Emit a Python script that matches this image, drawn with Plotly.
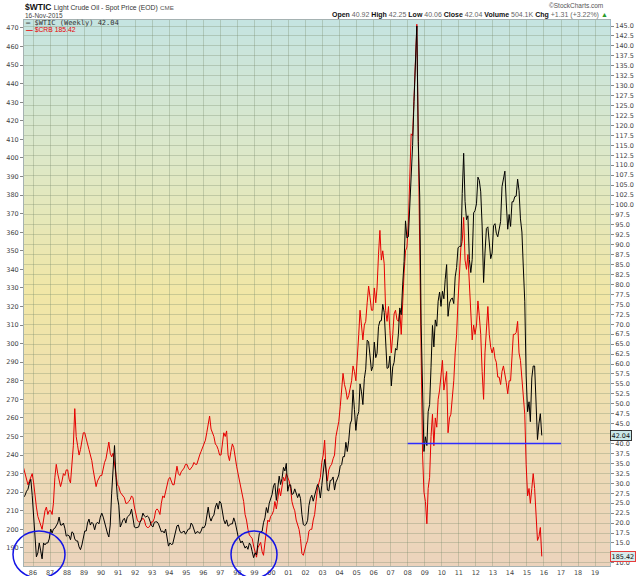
import pandas as pd
import plotly.graph_objects as go

START_MONTH = "1985-06-01"

wtic = [
    26.5, 27.0, 28.0, 28.5, 30.0, 31.0, 27.0,                          # 1985 Jun-Dec
    22.0, 14.5, 11.5, 12.5, 15.0, 13.0, 11.0, 15.0, 14.5, 15.0, 15.0, 16.0,  # 1986
    18.5, 17.5, 18.5, 18.7, 19.4, 20.0, 21.5, 19.5, 19.5, 20.0, 18.7, 16.7,  # 1987
    17.0, 16.8, 15.8, 17.8, 17.5, 16.0, 15.5, 15.5, 14.0, 13.3, 14.5, 16.5,  # 1988
    18.0, 18.0, 20.0, 21.0, 19.5, 20.2, 19.8, 18.3, 19.8, 20.2, 19.8, 21.5,  # 1989
    22.5, 21.5, 20.0, 18.5, 17.5, 16.5, 19.5, 27.5, 33.5, 39.5, 31.5, 26.5,  # 1990
    24.5, 19.0, 19.8, 20.8, 21.2, 20.0, 21.5, 21.8, 22.2, 23.5, 21.5, 19.0,  # 1991
    18.8, 19.0, 19.0, 20.2, 21.0, 22.5, 21.8, 21.5, 21.8, 21.5, 20.3, 19.4,  # 1992
    19.0, 20.2, 20.3, 20.3, 19.8, 19.0, 17.8, 18.0, 17.5, 18.5, 16.5, 14.2,  # 1993
    15.0, 14.6, 14.7, 16.5, 18.0, 19.3, 19.5, 18.0, 17.5, 17.8, 18.0, 17.2,  # 1994
    18.0, 18.5, 18.5, 20.0, 19.5, 18.3, 17.3, 17.8, 17.8, 17.4, 18.0, 19.0,  # 1995
    18.8, 19.5, 21.5, 24.0, 21.5, 20.5, 21.5, 22.0, 24.0, 25.0, 23.5, 25.5,  # 1996
    25.0, 22.0, 20.8, 19.8, 20.8, 19.2, 19.6, 19.8, 19.8, 21.3, 20.2, 18.3,  # 1997
    16.7, 16.0, 15.0, 15.5, 14.8, 13.7, 14.2, 13.4, 15.0, 14.4, 12.8, 11.3,  # 1998
    12.5, 12.0, 14.7, 17.3, 17.8, 17.9, 20.1, 21.3, 23.9, 22.6, 25.0, 26.1,  # 1999
    27.2, 29.4, 30.0, 25.7, 28.8, 31.8, 29.7, 31.2, 34.0, 33.1, 35.0, 28.0,  # 2000
    29.6, 29.6, 27.2, 27.4, 28.6, 27.6, 26.4, 27.4, 26.2, 22.2, 19.6, 19.4,  # 2001
    19.7, 20.7, 24.4, 26.2, 27.0, 25.5, 26.9, 28.4, 29.7, 28.9, 26.3, 29.4,  # 2002
    32.9, 36.0, 33.6, 28.3, 28.1, 30.7, 30.8, 31.6, 28.3, 30.3, 31.1, 32.1,  # 2003
    34.3, 34.7, 36.7, 36.7, 40.3, 38.0, 40.7, 44.9, 45.9, 53.5, 48.5, 43.3,  # 2004
    46.8, 48.0, 55.0, 53.0, 49.8, 56.3, 58.7, 66.0, 65.6, 62.4, 58.3, 59.4,  # 2005
    65.5, 61.6, 62.7, 69.4, 70.8, 70.9, 75.0, 73.0, 63.8, 58.9, 59.1, 62.0,  # 2006
    54.5, 59.3, 60.4, 63.9, 63.5, 67.5, 74.1, 72.4, 79.9, 85.8, 96.0, 91.7,  # 2007
    92.0, 100.0, 105.5, 115.0, 126.0, 138.0, 145.0, 116.0, 102.0, 70.0, 54.0, 38.0,  # 2008
    41.7, 39.5, 48.0, 49.8, 59.2, 69.7, 64.3, 71.1, 69.5, 75.8, 78.1, 74.5,  # 2009
    78.3, 76.4, 81.2, 85.0, 72.0, 75.3, 76.3, 76.6, 75.2, 81.9, 84.3, 89.2,  # 2010
    89.6, 89.6, 102.9, 113.0, 100.9, 96.3, 97.3, 86.3, 83.0, 86.3, 98.0, 98.6,  # 2011
    100.3, 107.0, 106.2, 103.3, 94.7, 80.5, 87.9, 94.1, 94.5, 89.5, 86.5, 87.9,  # 2012
    94.8, 95.3, 92.9, 92.0, 94.5, 95.8, 104.6, 107.0, 108.5, 100.5, 93.9, 97.6,  # 2013
    94.6, 100.8, 100.8, 102.1, 102.2, 106.5, 103.6, 96.5, 93.2, 84.4, 75.8, 57.0,  # 2014
    48.0, 50.5, 45.5, 56.5, 59.5, 59.5, 48.5, 41.0, 45.0, 47.5, 42.04,       # 2015 Jan-Nov
]

# $CRB index, same months
crb = [
    233, 230, 226, 224, 226, 228, 230,                     # 1985 Jun-Dec
    225, 216, 212, 207, 205, 203, 200, 205, 210, 212, 208, 210,  # 1986
    210, 208, 214, 228, 235, 230, 226, 223, 226, 230, 229, 232,  # 1987
    232, 227, 225, 237, 245, 265, 250, 245, 240, 243, 247, 252,  # 1988
    252, 248, 246, 243, 240, 237, 232, 226, 223, 226, 228, 229,  # 1989
    229, 233, 236, 238, 244, 247, 241, 239, 241, 236, 230, 224,  # 1990
    223, 220, 219, 218, 217, 214, 214, 215, 216, 218, 217, 212,  # 1991
    209, 205, 204, 204, 205, 206, 205, 202, 201, 201, 202, 204,  # 1992
    204, 206, 210, 211, 210, 208, 214, 218, 217, 220, 223, 227,  # 1993
    228, 226, 224, 224, 230, 234, 230, 229, 231, 232, 233, 235,  # 1994
    235, 233, 232, 233, 234, 236, 235, 235, 238, 240, 242, 244,  # 1995
    246, 248, 252, 258, 261, 254, 252, 250, 246, 245, 243, 240,  # 1996
    240, 246, 252, 250, 253, 240, 237, 242, 246, 244, 238, 234,  # 1997
    230, 226, 224, 220, 215, 208, 205, 200, 197, 196, 195, 191,  # 1998
    187, 185, 190, 192, 193, 188, 186, 193, 200, 205, 204, 207,  # 1999
    208, 210, 215, 211, 216, 222, 218, 222, 228, 226, 230, 228,  # 2000
    226, 222, 215, 212, 210, 205, 202, 200, 195, 187, 186, 190,  # 2001
    192, 194, 199, 200, 200, 205, 208, 215, 222, 225, 228, 236,  # 2002
    240, 248, 232, 226, 232, 234, 235, 238, 240, 250, 255, 258,  # 2003
    266, 275, 284, 278, 275, 270, 272, 276, 280, 288, 285, 280,  # 2004
    290, 305, 318, 307, 302, 310, 312, 322, 331, 325, 318, 318,  # 2005
    330, 322, 330, 348, 361, 345, 350, 343, 318, 312, 320, 307,  # 2006
    295, 305, 316, 318, 313, 312, 318, 305, 327, 338, 350, 352,  # 2007
    365, 395, 413, 412, 430, 455, 472, 410, 362, 295, 240, 220,  # 2008
    215, 203, 222, 228, 250, 262, 245, 260, 255, 270, 275, 282,  # 2009
    291, 275, 280, 285, 252, 260, 262, 272, 280, 295, 305, 323,  # 2010
    335, 352, 355, 368, 345, 340, 348, 334, 320, 302, 310, 305,  # 2011
    310, 323, 315, 305, 285, 270, 295, 305, 320, 305, 298, 295,  # 2012
    298, 292, 290, 282, 282, 278, 285, 288, 284, 279, 273, 280,  # 2013
    280, 296, 305, 305, 306, 312, 295, 291, 280, 268, 262, 235,  # 2014
    218, 222, 214, 222, 230, 222, 210, 194, 196, 201, 185.42,    # 2015 Jan-Nov
]

LEFT_TICKS = list(range(190, 471, 10))
RIGHT_TICKS = [10 + 2.5 * i for i in range(55)]          # 10.0 .. 145.0
HIDDEN_RIGHT = {12.5, 42.5}                              # covered by the last-value tags
SUPPORT_LEVEL = 40.0
SUPPORT_FROM, SUPPORT_TO = "2008-01-01", "2017-01-01"

dates = pd.date_range(START_MONTH, periods=len(wtic), freq="MS") + pd.Timedelta(days=14)

W, H = 640, 576
ML, MR, MT, MB = 24, 30, 20, 10
PW, PH = W - ML - MR, H - MT - MB      # plot box: x 24..610, y 20..566


def px(x):   # pixel -> paper
    return (x - ML) / PW


def py(y):
    return (H - MB - y) / PH


def mix(a, b, t):
    return tuple(round(a[i] + (b[i] - a[i]) * t) for i in range(3))


STOPS = [(0.0, (197, 228, 225)), (0.25, (221, 232, 200)), (0.5, (241, 231, 166)),
         (0.75, (238, 221, 180)), (1.0, (236, 211, 188))]


def bg_color(t):
    for (t0, c0), (t1, c1) in zip(STOPS, STOPS[1:]):
        if t <= t1:
            return "rgb(%d,%d,%d)" % mix(c0, c1, (t - t0) / (t1 - t0))
    return "rgb(%d,%d,%d)" % STOPS[-1][1]


shapes = []
N = 110
for i in range(N):
    shapes.append(dict(type="rect", xref="paper", yref="paper", x0=0, x1=1,
                       y0=max(0, 1 - (i + 1.3) / N), y1=1 - i / N, layer="below",
                       fillcolor=bg_color((i + 0.5) / N), line_width=0))

# support line and the two circled lows
shapes.append(dict(type="line", xref="x", yref="y2", x0=SUPPORT_FROM, x1=SUPPORT_TO,
                   y0=SUPPORT_LEVEL, y1=SUPPORT_LEVEL, line=dict(color="rgb(45,45,255)", width=1.6)))
for x0, x1 in [(13, 65), (231, 277)]:
    shapes.append(dict(type="circle", xref="paper", yref="paper",
                       x0=px(x0), x1=px(x1), y0=py(578), y1=py(531),
                       line=dict(color="rgb(20,20,230)", width=1.5)))

fig = go.Figure()

fig.add_trace(go.Scatter(
    x=dates, y=crb, yaxis="y", mode="lines",
    line=dict(color="rgb(230,0,0)", width=1),
    name="$CRB", showlegend=False
))
fig.add_trace(go.Scatter(
    x=dates, y=wtic, yaxis="y2", mode="lines",
    line=dict(color="black", width=1),
    name="$WTIC", showlegend=False
))

SANS = "Liberation Sans"
TICK = dict(family="DejaVu Sans", size=6.5, color="#444")
GRAY = "<span style='color:#666'>%s</span>"

ann = [
    dict(text="<b>$WTIC</b> <span style='font-size:6.8px;color:#333'>Light Crude Oil - Spot Price (EOD)"
              "</span> <span style='font-size:6.2px;color:#555'>CME</span>",
         x=px(23), y=py(6.5), font=dict(family=SANS, size=8.5, color="#111")),
    dict(text="16-Nov-2015", x=px(23), y=py(15.5), font=dict(family=SANS, size=6.5, color="#444")),
    dict(text="©StockCharts.com", x=px(605), y=py(5.5), xanchor="right",
         font=dict(family=SANS, size=6.5, color="#555")),
    dict(text="<b>Open</b> " + GRAY % "40.92" + " <b>High</b> " + GRAY % "42.25" +
              " <b>Low</b> " + GRAY % "40.06" + " <b>Close</b> " + GRAY % "42.04" +
              " <b>Volume</b> " + GRAY % "504.1K" + " <b>Chg</b> " + GRAY % "+1.31 (+3.22%)" +
              " <span style='color:#2a9a2a'>▲</span>",
         x=px(610), y=py(14.5), xanchor="right", font=dict(family=SANS, size=7, color="#111")),
    dict(text="<b>—</b> $WTIC (Weekly) 42.04", x=px(24), y=py(23),
         font=dict(family="DejaVu Sans Mono", size=7, color="#333")),
    dict(text="<b>—</b> $CRB 185.42", x=px(24), y=py(29.5),
         font=dict(family=SANS, size=6.8, color="rgb(230,0,0)")),
]
for a in ann:
    a.update(xref="paper", yref="paper", showarrow=False, xanchor=a.get("xanchor", "left"),
             yanchor="middle")

# last-value tags on the right axis
ann.append(dict(text="42.04", xref="paper", yref="y2", x=1.0, y=wtic[-1], xanchor="left",
                showarrow=False, font=TICK | dict(color="#111"), bgcolor="rgb(200,232,232)",
                bordercolor="#333", borderwidth=1, borderpad=0.5))
ann.append(dict(text="185.42", xref="paper", yref="y", x=1.0, y=crb[-1], xanchor="left",
                showarrow=False, font=TICK | dict(color="#111"), bgcolor="rgb(215,236,236)",
                bordercolor="rgb(230,60,60)", borderwidth=1, borderpad=0.5))

GRID = "rgba(120,140,110,0.33)"
LINE = "rgb(165,178,178)"

fig.update_layout(
    width=W, height=H,
    margin=dict(l=ML, r=MR, t=MT, b=MB),
    paper_bgcolor="white",
    plot_bgcolor="rgb(236,222,190)",
    showlegend=False,
    hovermode=False,
    shapes=shapes,
    annotations=ann,
    xaxis=dict(
        type="date", range=["1985-06-22", "2019-11-17"], automargin=False,
        tick0="1986-01-01", dtick="M12", tickformat="%y",
        showgrid=True, gridcolor=GRID, gridwidth=1,
        showline=True, linecolor=LINE, linewidth=1, mirror=True,
        ticks="", tickfont=TICK, zeroline=False,
    ),
    yaxis=dict(
        range=[180.25, 474.3], tickvals=LEFT_TICKS, showgrid=False, automargin=False,
        ticks="outside", ticklen=3, tickcolor="#888", tickfont=TICK,
        showline=True, linecolor=LINE, linewidth=1, zeroline=False,
    ),
    yaxis2=dict(
        range=[9.2, 146.52], overlaying="y", side="right", automargin=False,
        tickvals=RIGHT_TICKS,
        ticktext=["" if v in HIDDEN_RIGHT else "%.1f" % v for v in RIGHT_TICKS],
        showgrid=True, gridcolor=GRID, gridwidth=1,
        ticks="outside", ticklen=3, tickcolor="#888", tickfont=TICK,
        showline=True, linecolor="rgb(160,190,205)", linewidth=1, zeroline=False,
    ),
)

# the page's default body margin would push the 640x576 figure 8px down and right
fig.write_html("out.html", config={"displayModeBar": False},
               post_script="document.body.style.margin = '0';")
